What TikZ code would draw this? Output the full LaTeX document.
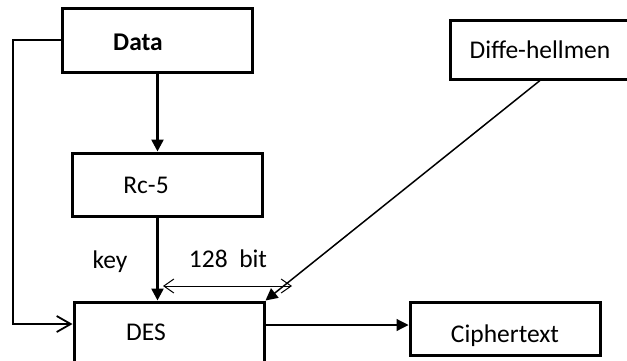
\documentclass[tikz,border=0pt]{standalone}
\usepackage{fontspec}
\setmainfont{Carlito}
\usetikzlibrary{arrows.meta}

\begin{document}
\begin{tikzpicture}[x=1pt, y=-1pt, box node/.style={draw, line width=3pt, minimum width=190pt, inner sep=0pt}, label node/.style={anchor=base}, fill tip/.style={-{Triangle[length=12pt,width=12pt]}}, open tip/.style={-{Straight Barb[length=14pt,width=16pt]}}, both tip/.style={{Straight Barb[length=10pt,width=14pt]}-{Straight Barb[length=10pt,width=14pt]}}]
            \tikzstyle{every node}=[font=\fontsize{25.5}{30}\selectfont]
            \useasboundingbox (0,0) rectangle (627,360);

              \node[box node, minimum height=64pt] (data) at (157.5,40) {};
              \node[box node, minimum height=63pt] (rc5) at (167,184.5) {};
              \node[box node, minimum height=62pt] (des) at (169,333) {};
              \node[box node, minimum width=180pt, minimum height=59pt] (diffe) at (540,49.5) {};
              \node[box node, minimum height=53pt] (cipher) at (505,328.5) {};

              \node[label node, font=\fontsize{25.5}{30}\selectfont\bfseries] (data text) at (138,50) {Data};
              \node[label node] (rc5 text) at (146,193) {Rc-5};
              \node[label node] (des text) at (146,340) {DES};
              \node[label node] (diffe text) at (540,58) {Diffe-hellmen};
              \node[label node] (cipher text) at (505,342) {Ciphertext};
              \node[label node] (key text) at (110,268) {key};
              \node[label node] (bit text) at (228,267) {128\ \ bit};

              \coordinate (bit left) at (163,286);
              \coordinate (bit right) at (292,286);

              \draw[line width=2.5pt, fill tip] (data.south) -- (data.south |- rc5.north);
              \draw[line width=2.5pt, fill tip] (rc5.south -| data) -- (des.north -| data);
              \draw[line width=1.8pt, open tip] (data.west) -- ++(-48,0) |- ([yshift=9pt]des.west);
              \draw[line width=1.5pt, fill tip] (diffe.south) -- (des.north east);
              \draw[line width=1.2pt, fill tip] ([yshift=8pt]des.east) -- ([yshift=8pt]des.east -| cipher.west);
              \draw[line width=1pt, both tip] (bit left) -- (bit right);

            \end{tikzpicture}
\end{document}
